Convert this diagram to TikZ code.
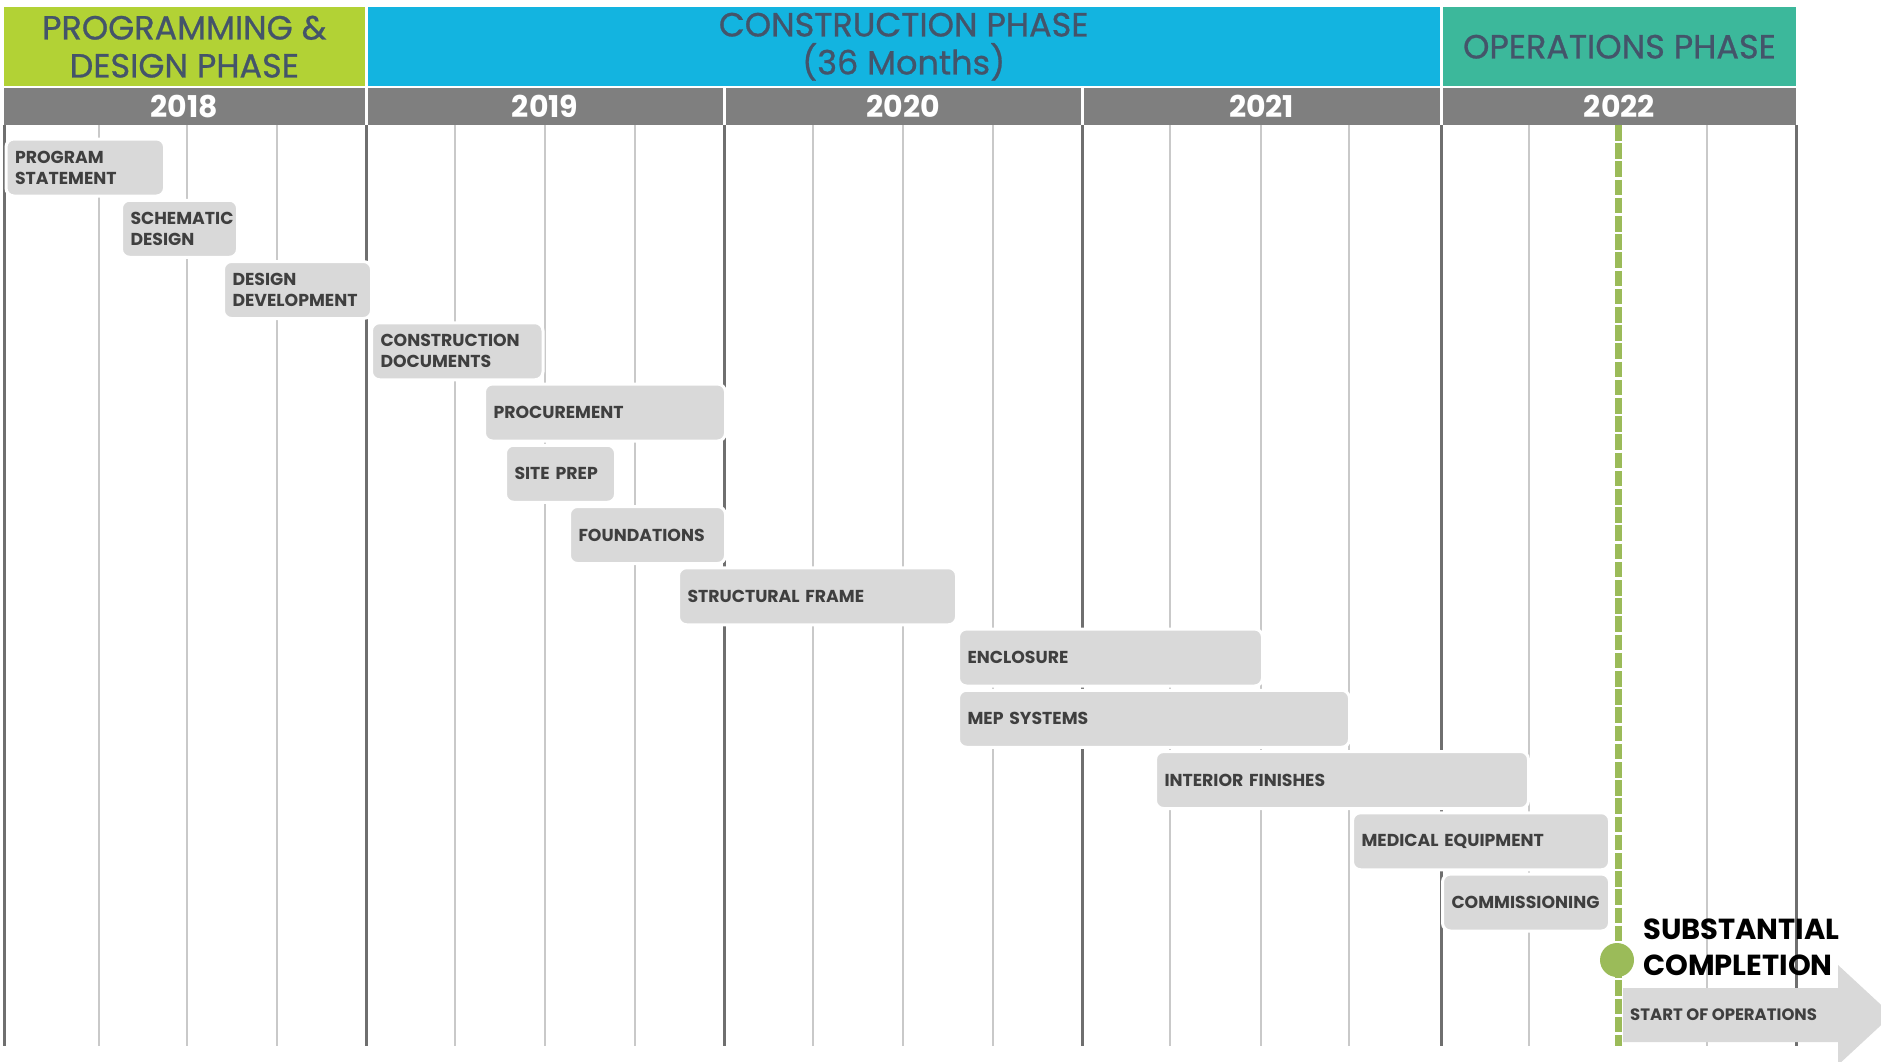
\documentclass[tikz,border=0pt]{standalone}
\usepackage{fontspec}
\setmainfont{Poppins}
\newfontfamily\headfont[FakeBold=0.8]{Poppins}
\definecolor{hgreen}{HTML}{B2D235}
\definecolor{hblue}{HTML}{13B4E0}
\definecolor{hteal}{HTML}{3CB89B}
\definecolor{htext}{HTML}{44546A}
\definecolor{ygrey}{HTML}{7F7F7F}
\definecolor{barfill}{HTML}{D9D9D9}
\definecolor{bartext}{HTML}{3F3F3F}
\definecolor{yline}{HTML}{6F6F6F}
\definecolor{qline}{HTML}{C9C9C9}
\definecolor{msgreen}{HTML}{9BBB59}
\begin{document}
\begin{tikzpicture}[x=1pt,y=-1pt,
  headbox/.style={anchor=north west, minimum height=79, inner sep=0, align=center,
    text=htext, font=\headfont\fontsize{33.5}{38}\selectfont},
  yearcell/.style={anchor=north west, fill=ygrey, minimum height=37.5, inner sep=0,
    text=white, font=\bfseries\fontsize{30}{30}\selectfont},
  bar/.style={anchor=north west, fill=barfill, draw=white, line width=3pt,
    rounded corners=8pt, minimum height=57, inner xsep=9pt, inner ysep=0pt,
    align=left, text=bartext, font=\bfseries\fontsize{17.3}{21}\selectfont},
  yearline/.style={draw=yline, line width=3pt},
  qtrline/.style={draw=qline, line width=2pt}]
\useasboundingbox (0,0) rectangle (1881,1061);
\clip (0,0) rectangle (1881,1061);
\fill[white] (0,0) rectangle (1881,1061);

% phase headers
\node[headbox, fill=hgreen, minimum width=361] (pdp) at (3.6,7) {PROGRAMMING \&\\DESIGN PHASE};
\node[headbox, fill=hblue, minimum width=1072] (cp) at (367.5,7) {CONSTRUCTION PHASE\\(36 Months)};
\node[headbox, fill=hteal, minimum width=353.5] (op) at (1442.5,7) {OPERATIONS PHASE};

% year cells
\node[yearcell, minimum width=361] (y18) at (3.6,87.5) {2018};
\node[yearcell, minimum width=355] (y19) at (367.5,87.5) {2019};
\node[yearcell, minimum width=355] (y20) at (725.5,87.5) {2020};
\node[yearcell, minimum width=356] (y21) at (1083.5,87.5) {2021};
\node[yearcell, minimum width=353.5] (y22) at (1442.5,87.5) {2022};

% grid
\foreach \x in {99,187,277,455,545,635,813,903,993,1170,1261,1349,1529,1707}
  \draw[qtrline] (\x,125) -- (\x,1046);
\foreach \x in {4.5,366,724,1082,1441,1796}
  \draw[yearline] (\x,125) -- (\x,1046);

% activity bars
\node[bar, minimum width=158.5, text width=140.5] (ps) at (4.5,137.5) {PROGRAM\\STATEMENT};
\node[bar, minimum width=116, text width=98] (sd) at (120,198.75) {SCHEMATIC\\DESIGN};
\node[bar, minimum width=148, text width=130] (dd) at (222,260) {DESIGN\\DEVELOPMENT};
\node[bar, minimum width=171.5, text width=153.5] (cd) at (370,321.25) {CONSTRUCTION\\DOCUMENTS};
\node[bar, minimum width=241, text width=223] (pr) at (483,382.5) {PROCUREMENT};
\node[bar, minimum width=110, text width=92] (sp) at (504,443.75) {SITE PREP};
\node[bar, minimum width=156, text width=138] (fd) at (568,505) {FOUNDATIONS};
\node[bar, minimum width=278, text width=260] (sf) at (677,566.25) {STRUCTURAL FRAME};
\node[bar, minimum width=304, text width=286] (en) at (957,627.5) {ENCLOSURE};
\node[bar, minimum width=391, text width=373] (mep) at (957,688.75) {MEP SYSTEMS};
\node[bar, minimum width=373, text width=355] (inf) at (1154,750) {INTERIOR FINISHES};
\node[bar, minimum width=257, text width=239] (me) at (1351,811.25) {MEDICAL EQUIPMENT};
\node[bar, minimum width=167, text width=149] (cm) at (1441,872.5) {COMMISSIONING};

% start of operations arrow
\fill[barfill] (1623,988) -- (1838,988) -- (1838,965) -- (1892,1015) -- (1838,1065)
  -- (1838,1042) -- (1623,1042) -- cycle;
\node[anchor=west, inner sep=0, text=bartext, font=\bfseries\fontsize{16.5}{20}\selectfont]
  (so) at (1630,1015) {START OF OPERATIONS};

% substantial completion milestone
\coordinate (gtop) at (1618,125);
\coordinate (gbot) at (1618,1046);
\draw[msgreen, line width=7pt, dash pattern=on 15.5pt off 2.7pt] (gtop) -- (gbot);
\node[circle, fill=msgreen, minimum size=34, inner sep=0] (dot) at (1617,960) {};
\node[anchor=west, inner sep=0, align=left, text=black,
  font=\bfseries\fontsize{29}{36}\selectfont] (sc) at (1643,947) {SUBSTANTIAL\\COMPLETION};
\end{tikzpicture}
\end{document}
